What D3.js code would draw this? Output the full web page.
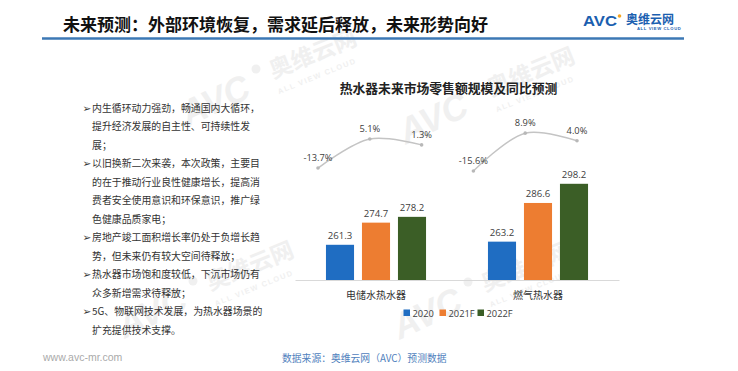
<!DOCTYPE html>
<html>
<head>
<meta charset="utf-8">
<script src="https://cdn.jsdelivr.net/npm/d3@7/dist/d3.min.js"></script>
<style>
  html, body { margin: 0; padding: 0; background: #fff; }
  svg { display: block; }
</style>
</head>
<body>
<svg id="chart" width="738" height="371"></svg>
<script>
// ---------------- DATA ----------------
const categories = ["电储水热水器", "燃气热水器"];
const seriesNames = ["2020", "2021F", "2022F"];
const values2020 = [261.3, 263.2];
const values2021F = [274.7, 286.6];
const values2022F = [278.2, 298.2];
const growthElectric = [-13.7, 5.1, 1.3];
const growthGas = [-15.6, 8.9, 4.0];
const pageTitle = "未来预测：外部环境恢复，需求延后释放，未来形势向好";
const chartTitle = "热水器未来市场零售额规模及同比预测";
const bulletLines = [
  [true,  "内生循环动力强劲，畅通国内大循环，"],
  [false, "提升经济发展的自主性、可持续性发"],
  [false, "展；"],
  [true,  "以旧换新二次来袭，本次政策，主要目"],
  [false, "的在于推动行业良性健康增长，提高消"],
  [false, "费者安全使用意识和环保意识，推广绿"],
  [false, "色健康品质家电；"],
  [true,  "房地产竣工面积增长率仍处于负增长趋"],
  [false, "势，但未来仍有较大空间待释放；"],
  [true,  "热水器市场饱和度较低，下沉市场仍有"],
  [false, "众多新增需求待释放；"],
  [true,  "5G、物联网技术发展，为热水器场景的"],
  [false, "扩充提供技术支撑。"]
];
const sourceText = "数据来源：奥维云网（AVC）预测数据";
const siteText = "www.avc-mr.com";

const colors = ["#1F6DC2", "#ED7D31", "#3B5E26"];
const CJK = "'Noto Sans CJK SC', 'Noto Sans', sans-serif";
const LAT = "'Liberation Sans', Arial, sans-serif";
const NUM = "'Open Sans', 'Noto Sans', sans-serif";

const svg = d3.select("#chart");

// ---------------- WATERMARKS ----------------
const wm = svg.append("g").attr("fill", "#f0f0f0");
const wmAnchors = [[215, 100], [433, 118], [152, 312], [427, 313]];
wmAnchors.forEach(([cx, cy]) => {
  wm.append("text")
    .attr("transform", `translate(${cx},${cy}) rotate(-25)`)
    .attr("text-anchor", "middle").attr("dy", "0.35em")
    .attr("font-family", LAT).attr("font-weight", "bold").attr("font-style", "italic")
    .attr("font-size", 36).attr("textLength", 72).attr("lengthAdjust", "spacingAndGlyphs")
    .text("AVC");
  wm.append("circle").attr("cx", cx + 41).attr("cy", cy - 31).attr("r", 4.5);
  wm.append("text")
    .attr("transform", `translate(${cx + 98},${cy - 46}) rotate(-22)`)
    .attr("text-anchor", "middle").attr("dy", "0.35em")
    .attr("font-family", CJK).attr("font-weight", "bold")
    .attr("font-size", 23)
    .text("奥维云网");
  wm.append("text")
    .attr("transform", `translate(${cx + 102},${cy - 24}) rotate(-22)`)
    .attr("text-anchor", "middle").attr("dy", "0.35em")
    .attr("font-family", LAT).attr("font-weight", "bold")
    .attr("font-size", 7.5).attr("letter-spacing", 1.4)
    .text("ALL VIEW CLOUD");
});

// ---------------- HEADER ----------------
svg.append("text")
  .attr("x", 63).attr("y", 31)
  .attr("font-family", CJK).attr("font-weight", "bold")
  .attr("font-size", 17).attr("fill", "#111")
  .text(pageTitle);

svg.append("line")
  .attr("x1", 42).attr("x2", 684).attr("y1", 38.5).attr("y2", 38.5)
  .attr("stroke", "#3C78B5").attr("stroke-width", 2.5);

// logo
svg.append("text")
  .attr("x", 583).attr("y", 25.5)
  .attr("font-family", LAT).attr("font-weight", "bold")
  .attr("font-size", 14.5).attr("textLength", 34).attr("lengthAdjust", "spacingAndGlyphs")
  .attr("fill", "#1B5FB0")
  .text("AVC");
svg.append("circle").attr("cx", 619.5).attr("cy", 16).attr("r", 1.8).attr("fill", "#F5A623");
svg.append("text")
  .attr("x", 626).attr("y", 24)
  .attr("font-family", CJK).attr("font-weight", "bold")
  .attr("font-size", 12).attr("fill", "#1B5FB0")
  .text("奥维云网");
svg.append("text")
  .attr("x", 637).attr("y", 30)
  .attr("font-family", LAT).attr("font-weight", "bold")
  .attr("font-size", 4.2).attr("letter-spacing", 0.6).attr("fill", "#1B5FB0")
  .text("ALL VIEW CLOUD");

// ---------------- BULLET TEXT ----------------
const bullets = svg.append("g");
bulletLines.forEach(([isBullet, txt], i) => {
  const y = 108 + 18.5 * i + 3.6;
  if (isBullet) {
    bullets.append("text")
      .attr("x", 82.5).attr("y", y)
      .attr("font-family", "'DejaVu Sans', sans-serif")
      .attr("font-size", 10.5).attr("fill", "#333")
      .text("➢");
  }
  bullets.append("text")
    .attr("x", 92).attr("y", y)
    .attr("font-family", CJK)
    .attr("font-size", 9.9).attr("fill", "#333")
    .text(txt);
});

// ---------------- CHART ----------------
svg.append("text")
  .attr("x", 448.5).attr("y", 93)
  .attr("text-anchor", "middle")
  .attr("font-family", CJK).attr("font-weight", "bold")
  .attr("font-size", 12.8).attr("fill", "#222")
  .text(chartTitle);

const baseY = 280;
const x0 = d3.scaleBand().domain(categories).range([295, 619]).padding(0);
const x1 = d3.scaleBand().domain(seriesNames).range([27, 135])
  .paddingInner(0.22).paddingOuter(0.11);
const yBar = d3.scaleLinear().domain([240, 300]).range([baseY, baseY - 60 * 1.653]);

const seriesValues = [values2020, values2021F, values2022F];
const barData = [];
categories.forEach((c, ci) => {
  seriesNames.forEach((s, si) => {
    barData.push({ cat: c, ser: s, si, v: seriesValues[si][ci] });
  });
});

const bars = svg.append("g");
bars.selectAll("rect").data(barData).join("rect")
  .attr("x", d => x0(d.cat) + x1(d.ser))
  .attr("y", d => yBar(d.v))
  .attr("width", x1.bandwidth())
  .attr("height", d => baseY - yBar(d.v))
  .attr("fill", d => colors[d.si]);

bars.selectAll("text.val").data(barData).join("text")
  .attr("class", "val")
  .attr("x", d => x0(d.cat) + x1(d.ser) + x1.bandwidth() / 2)
  .attr("y", d => yBar(d.v) - 5.5)
  .attr("text-anchor", "middle")
  .attr("font-family", NUM)
  .attr("font-size", 9.6).attr("fill", "#404040")
  .text(d => d.v.toFixed(1));

// x axis
const xAxis = svg.append("g").attr("transform", `translate(0,${baseY})`)
  .call(d3.axisBottom(x0).tickSize(0).tickPadding(0));
xAxis.select(".domain").attr("stroke", "#d9d9d9").attr("stroke-width", 1);
xAxis.selectAll(".tick text")
  .attr("y", 18.5).attr("dy", 0)
  .attr("font-family", CJK).attr("font-size", 10).attr("fill", "#333");

// growth lines
const lineKeys = ["e0", "e1", "e2", "g0", "g1", "g2"];
const xLine = d3.scalePoint().domain(lineKeys).range([318, 577]);
const yLine = d3.scaleLinear().domain([-20, 10]).range([146.9 + 20 * 1.545, 146.9 - 10 * 1.545]);
const lineSeries = [
  growthElectric.map((v, i) => ({ k: lineKeys[i], v })),
  growthGas.map((v, i) => ({ k: lineKeys[i + 3], v }))
];
const lineGen = d3.line().x(d => xLine(d.k)).y(d => yLine(d.v)).curve(d3.curveCatmullRom.alpha(0.5));
const lg = svg.append("g");
lineSeries.forEach(ser => {
  lg.append("path").datum(ser)
    .attr("d", lineGen)
    .attr("fill", "none").attr("stroke", "#c4c4c4").attr("stroke-width", 1.5);
  lg.selectAll(null).data(ser).join("circle")
    .attr("cx", d => xLine(d.k)).attr("cy", d => yLine(d.v)).attr("r", 1.8)
    .attr("fill", "#b8b8b8");
  lg.selectAll(null).data(ser).join("text")
    .attr("x", d => xLine(d.k)).attr("y", d => yLine(d.v) - 7)
    .attr("text-anchor", "middle")
    .attr("font-family", NUM)
    .attr("font-size", 9.3).attr("fill", "#404040")
    .text(d => d.v.toFixed(1) + "%");
});

// legend
const legend = svg.append("g");
const legendX = [403.5, 439.5, 477.5];
seriesNames.forEach((s, i) => {
  legend.append("rect")
    .attr("x", legendX[i]).attr("y", 309.5).attr("width", 6.5).attr("height", 6.5)
    .attr("fill", colors[i]);
  legend.append("text")
    .attr("x", legendX[i] + 9).attr("y", 316.5)
    .attr("font-family", NUM)
    .attr("font-size", 9.3).attr("fill", "#404040")
    .text(s);
});

// ---------------- FOOTER ----------------
svg.append("text")
  .attr("x", 43).attr("y", 361)
  .attr("font-family", LAT).attr("font-size", 10.5).attr("fill", "#aaaaaa")
  .text(siteText);
svg.append("text")
  .attr("x", 282).attr("y", 361.5)
  .attr("font-family", CJK).attr("font-size", 9.8).attr("fill", "#4F81BD")
  .text(sourceText);
</script>
</body>
</html>
